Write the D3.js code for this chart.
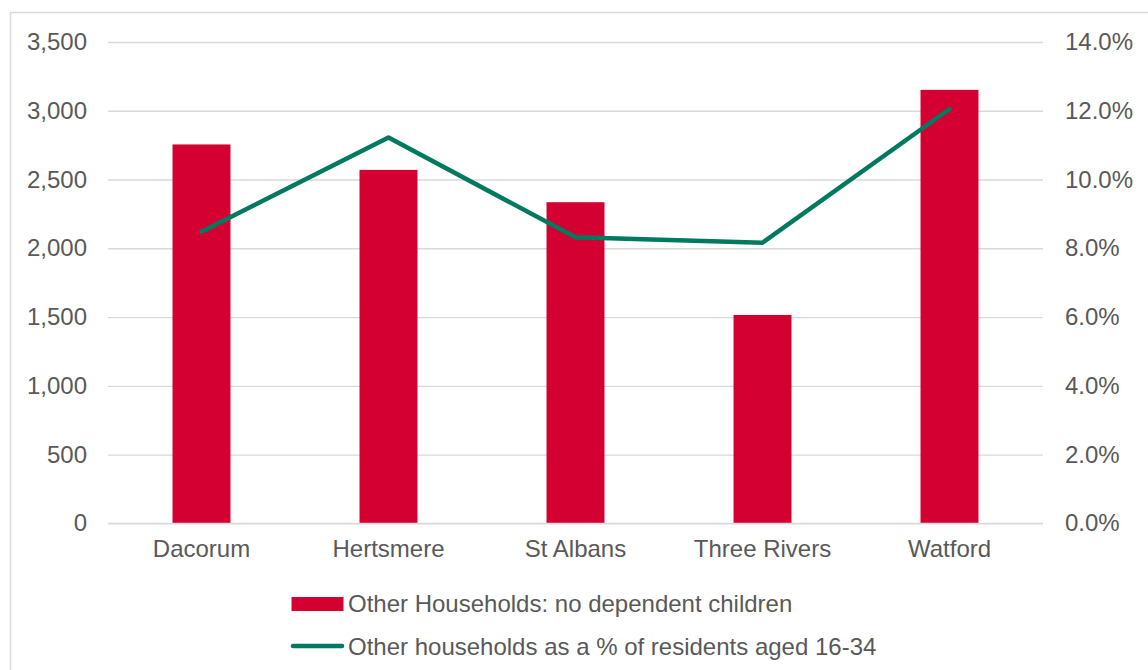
<!DOCTYPE html>
<html><head><meta charset="utf-8">
<script src="https://cdn.jsdelivr.net/npm/d3@7"></script>
<style>body{margin:0;background:#fff}svg{display:block}</style>
</head><body>
<svg id="c" width="1148" height="670"></svg>
<script>
const categories = ["Dacorum","Hertsmere","St Albans","Three Rivers","Watford"];
const households = [2755, 2570, 2335, 1515, 3152];
const pctShare = [0.0848, 0.1122, 0.0832, 0.0816, 0.1205];
const leftTicks = [0,500,1000,1500,2000,2500,3000,3500];
const rightTicks = [0,0.02,0.04,0.06,0.08,0.10,0.12,0.14];
const seriesNames = ["Other Households: no dependent children","Other households as a % of residents aged 16-34"];

const svg = d3.select("#c");
const font = "Liberation Sans, Arial, sans-serif";
const textCol = "#595959";
const axisSize = 24;
const legendSize = 24;
const m = {l:108, r:1043, t:42, b:523.3};

svg.append("rect").attr("x",10.5).attr("y",12.5).attr("width",1150).attr("height",670)
  .attr("fill","none").attr("stroke","#D9D9D9").attr("stroke-width",1.5);

const x = d3.scaleBand().domain(categories).range([m.l,m.r]).paddingInner(0.69).paddingOuter(0.345);
const yL = d3.scaleLinear().domain([0,3500]).range([m.b,m.t]);
const yR = d3.scaleLinear().domain([0,0.14]).range([m.b,m.t]);

// gridlines
const gl = d3.axisLeft(yL).tickValues(leftTicks).tickSize(-(m.r-m.l)).tickFormat("");
const g = svg.append("g").attr("transform",`translate(${m.l},0)`).call(gl);
g.select(".domain").remove();
g.selectAll("line").attr("stroke","#D9D9D9").attr("stroke-width",1.3);

// left axis labels
const la = svg.append("g").attr("transform",`translate(${m.l},0)`)
  .call(d3.axisLeft(yL).tickValues(leftTicks).tickSize(0).tickPadding(21).tickFormat(d3.format(",")));
la.select(".domain").remove();
la.selectAll("text").attr("font-family",font).attr("font-size",axisSize).attr("fill",textCol);

// right axis labels
const ra = svg.append("g").attr("transform",`translate(${m.r},0)`)
  .call(d3.axisRight(yR).tickValues(rightTicks).tickSize(0).tickPadding(22).tickFormat(d3.format(".1%")));
ra.select(".domain").remove();
ra.selectAll("text").attr("font-family",font).attr("font-size",axisSize).attr("fill",textCol);

// bars
svg.append("g").selectAll("rect").data(categories).join("rect")
  .attr("x",d=>x(d)).attr("width",x.bandwidth())
  .attr("y",(d,i)=>yL(households[i])).attr("height",(d,i)=>m.b-yL(households[i]))
  .attr("fill","#D50032");

// baseline
svg.append("line").attr("x1",m.l).attr("x2",m.r).attr("y1",m.b).attr("y2",m.b)
  .attr("stroke","#D9D9D9").attr("stroke-width",1.3);

// category axis
const xa = svg.append("g").attr("transform",`translate(0,${m.b})`)
  .call(d3.axisBottom(x).tickSize(0).tickPadding(17));
xa.select(".domain").remove();
xa.selectAll("text").attr("font-family",font).attr("font-size",axisSize).attr("fill",textCol);

// line
const line = d3.line().x((d,i)=>x(categories[i])+x.bandwidth()/2).y(d=>yR(d));
svg.append("path").datum(pctShare).attr("d",line).attr("fill","none")
  .attr("stroke","#007A5E").attr("stroke-width",4.5).attr("stroke-linecap","round").attr("stroke-linejoin","round");

// legend
const lg = svg.append("g");
lg.append("rect").attr("x",291.5).attr("y",597).attr("width",52).attr("height",14).attr("fill","#D50032");
lg.append("line").attr("x1",293).attr("x2",342).attr("y1",646).attr("y2",646)
  .attr("stroke","#007A5E").attr("stroke-width",4.5).attr("stroke-linecap","round");
lg.selectAll("text").data(seriesNames).join("text")
  .attr("x",348).attr("y",(d,i)=>612+i*43)
  .attr("font-family",font).attr("font-size",legendSize).attr("fill",textCol).text(d=>d);
</script>
</body></html>
